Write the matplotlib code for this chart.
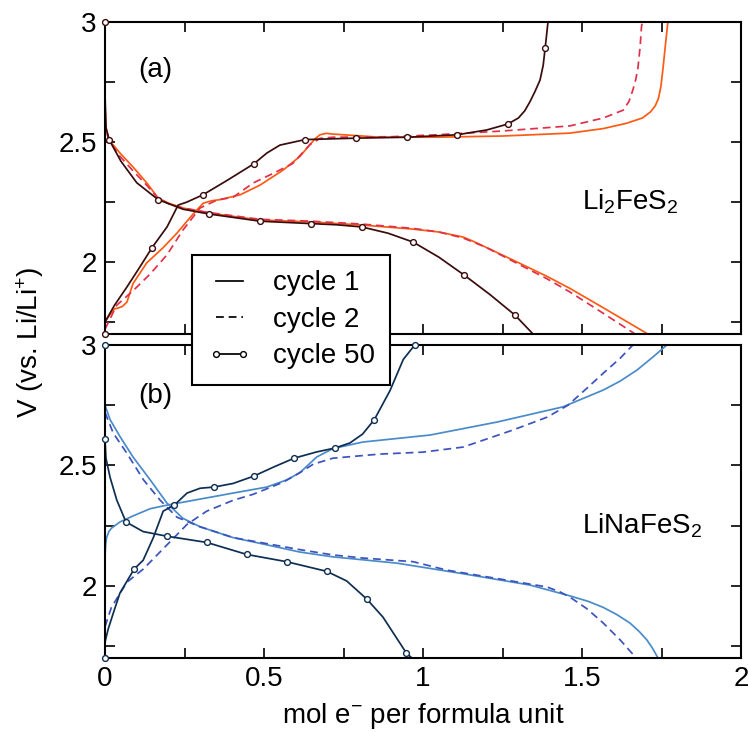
import matplotlib
matplotlib.use("Agg")
import matplotlib.pyplot as plt
from matplotlib.lines import Line2D
from matplotlib.ticker import MultipleLocator, FormatStrFormatter

plt.rcParams['font.family'] = ['Liberation Sans', 'DejaVu Sans']
plt.rcParams['mathtext.fontset'] = 'custom'
plt.rcParams['mathtext.rm'] = 'Liberation Sans'
plt.rcParams['mathtext.default'] = 'regular'

# ---------------- Data: (a) Li2FeS2 ----------------
a_c1_dis_x = [0, 0.003, 0.013, 0.047, 0.088, 0.131, 0.167, 0.2, 0.245, 0.327, 0.487, 0.648, 0.808, 0.969, 1.05, 1.126, 1.16, 1.2, 1.283, 1.39, 1.462, 1.566, 1.707]
a_c1_dis_v = [2.66, 2.56, 2.508, 2.454, 2.396, 2.33, 2.267, 2.245, 2.225, 2.204, 2.175, 2.167, 2.154, 2.137, 2.125, 2.104, 2.085, 2.06, 2.008, 1.94, 1.89, 1.81, 1.70]
a_c2_dis_x = [0, 0.003, 0.013, 0.047, 0.088, 0.131, 0.167, 0.2, 0.245, 0.327, 0.487, 0.648, 0.808, 0.969, 1.05, 1.126, 1.16, 1.2, 1.283, 1.39, 1.462, 1.566, 1.667]
a_c2_dis_v = [2.64, 2.55, 2.505, 2.44, 2.38, 2.32, 2.265, 2.243, 2.225, 2.206, 2.178, 2.17, 2.158, 2.14, 2.125, 2.10, 2.082, 2.06, 2.003, 1.93, 1.875, 1.787, 1.70]
a_c50_dis_x = [0, 0, 0.003, 0.013, 0.05, 0.1, 0.167, 0.245, 0.327, 0.488, 0.648, 0.73, 0.808, 0.89, 0.969, 1.05, 1.129, 1.21, 1.289, 1.346]
a_c50_dis_v = [3.0, 2.7, 2.56, 2.51, 2.42, 2.33, 2.26, 2.22, 2.20, 2.17, 2.16, 2.155, 2.146, 2.12, 2.083, 2.02, 1.946, 1.865, 1.779, 1.70]
a_c50_dis_mx = [0, 0.013, 0.167, 0.327, 0.488, 0.648, 0.808, 0.969, 1.129, 1.289]
a_c50_dis_mv = [3.0, 2.51, 2.26, 2.20, 2.17, 2.16, 2.146, 2.083, 1.946, 1.779]

a_c1_chg_x = [0, 0.015, 0.03, 0.041, 0.055, 0.069, 0.088, 0.131, 0.183, 0.226, 0.277, 0.309, 0.335, 0.362, 0.425, 0.487, 0.56, 0.613, 0.645, 0.662, 0.676, 0.695, 0.717, 0.865, 1.043, 1.252, 1.462, 1.567, 1.64, 1.69, 1.715, 1.73, 1.74, 1.748, 1.755, 1.762, 1.77]
a_c1_chg_v = [1.75, 1.78, 1.805, 1.808, 1.815, 1.833, 1.91, 1.996, 2.06, 2.12, 2.2, 2.245, 2.255, 2.26, 2.28, 2.32, 2.383, 2.44, 2.49, 2.515, 2.53, 2.536, 2.533, 2.52, 2.52, 2.525, 2.537, 2.556, 2.578, 2.60, 2.625, 2.65, 2.68, 2.73, 2.81, 2.9, 3.0]
a_c2_chg_x = [0, 0.037, 0.088, 0.142, 0.195, 0.245, 0.299, 0.352, 0.403, 0.467, 0.53, 0.59, 0.645, 0.676, 0.717, 0.9, 1.043, 1.252, 1.462, 1.567, 1.63, 1.648, 1.66, 1.669, 1.676, 1.683, 1.687, 1.69]
a_c2_chg_v = [1.72, 1.82, 1.88, 1.95, 2.03, 2.133, 2.225, 2.258, 2.27, 2.33, 2.37, 2.41, 2.49, 2.515, 2.52, 2.522, 2.53, 2.546, 2.567, 2.60, 2.633, 2.67, 2.717, 2.76, 2.81, 2.9, 2.98, 3.0]
a_c50_chg_x = [0, 0, 0.03, 0.069, 0.11, 0.148, 0.195, 0.23, 0.258, 0.308, 0.384, 0.469, 0.509, 0.55, 0.629, 0.789, 0.95, 1.107, 1.2, 1.267, 1.30, 1.32, 1.336, 1.352, 1.368, 1.378, 1.384, 1.389, 1.393]
a_c50_chg_v = [1.70, 1.75, 1.82, 1.896, 1.98, 2.06, 2.146, 2.237, 2.25, 2.28, 2.34, 2.41, 2.454, 2.487, 2.51, 2.516, 2.52, 2.53, 2.55, 2.575, 2.60, 2.63, 2.667, 2.71, 2.758, 2.82, 2.89, 2.95, 3.0]
a_c50_chg_mx = [0, 0.148, 0.308, 0.469, 0.629, 0.789, 0.95, 1.107, 1.267, 1.384]
a_c50_chg_mv = [1.70, 2.06, 2.28, 2.41, 2.51, 2.516, 2.52, 2.53, 2.575, 2.89]

# ---------------- Data: (b) LiNaFeS2 ----------------
b_c1_dis_x = [0, 0.016, 0.047, 0.088, 0.142, 0.195, 0.245, 0.299, 0.403, 0.509, 0.613, 0.717, 0.918, 1.126, 1.336, 1.462, 1.52, 1.567, 1.61, 1.651, 1.68, 1.704, 1.722, 1.739]
b_c1_dis_v = [2.75, 2.69, 2.62, 2.535, 2.44, 2.343, 2.28, 2.245, 2.20, 2.17, 2.14, 2.12, 2.094, 2.05, 2.003, 1.958, 1.935, 1.91, 1.88, 1.845, 1.81, 1.775, 1.74, 1.70]
b_c2_dis_x = [0, 0.026, 0.069, 0.121, 0.173, 0.226, 0.299, 0.403, 0.509, 0.613, 0.717, 0.813, 0.969, 1.075, 1.233, 1.39, 1.43, 1.462, 1.515, 1.567, 1.62, 1.667]
b_c2_dis_v = [2.72, 2.634, 2.55, 2.44, 2.356, 2.285, 2.245, 2.20, 2.175, 2.15, 2.128, 2.115, 2.10, 2.065, 2.03, 1.995, 1.975, 1.953, 1.905, 1.845, 1.775, 1.705]
b_c50_dis_x = [0, 0, 0.003, 0.016, 0.037, 0.066, 0.12, 0.194, 0.32, 0.446, 0.571, 0.697, 0.76, 0.823, 0.874, 0.948, 0.965]
b_c50_dis_v = [3.0, 2.61, 2.53, 2.45, 2.356, 2.265, 2.225, 2.206, 2.18, 2.13, 2.10, 2.06, 2.02, 1.945, 1.87, 1.72, 1.70]
b_c50_dis_mx = [0, 0, 0.066, 0.194, 0.32, 0.446, 0.571, 0.697, 0.823, 0.948]
b_c50_dis_mv = [3.0, 2.61, 2.265, 2.206, 2.18, 2.13, 2.10, 2.06, 1.945, 1.72]

b_c1_chg_x = [0, 0.002, 0.005, 0.012, 0.021, 0.047, 0.088, 0.142, 0.195, 0.299, 0.403, 0.509, 0.572, 0.613, 0.666, 0.717, 0.811, 1.022, 1.233, 1.44, 1.567, 1.62, 1.673, 1.70, 1.723, 1.745, 1.767]
b_c1_chg_v = [2.12, 2.17, 2.20, 2.225, 2.24, 2.265, 2.29, 2.32, 2.335, 2.36, 2.385, 2.41, 2.44, 2.47, 2.535, 2.57, 2.597, 2.626, 2.68, 2.743, 2.813, 2.85, 2.896, 2.925, 2.95, 2.975, 3.0]
b_c2_chg_x = [0, 0.02, 0.069, 0.121, 0.195, 0.258, 0.32, 0.403, 0.466, 0.56, 0.613, 0.655, 0.717, 0.865, 1.0, 1.126, 1.283, 1.39, 1.456, 1.515, 1.567, 1.62, 1.66]
b_c2_chg_v = [1.83, 1.91, 2.015, 2.07, 2.17, 2.255, 2.31, 2.355, 2.38, 2.43, 2.47, 2.505, 2.53, 2.547, 2.555, 2.576, 2.647, 2.70, 2.75, 2.82, 2.883, 2.945, 3.0]
b_c50_chg_x = [0, 0, 0.01, 0.026, 0.047, 0.092, 0.12, 0.152, 0.183, 0.218, 0.258, 0.299, 0.343, 0.403, 0.469, 0.53, 0.595, 0.666, 0.723, 0.77, 0.81, 0.847, 0.896, 0.938, 0.974]
b_c50_chg_v = [1.70, 1.766, 1.82, 1.886, 1.97, 2.07, 2.106, 2.2, 2.31, 2.335, 2.385, 2.405, 2.41, 2.425, 2.456, 2.493, 2.53, 2.556, 2.572, 2.593, 2.63, 2.69, 2.81, 2.94, 3.0]
b_c50_chg_mx = [0, 0.092, 0.218, 0.343, 0.469, 0.595, 0.723, 0.847, 0.974]
b_c50_chg_mv = [1.70, 2.07, 2.335, 2.41, 2.456, 2.53, 2.572, 2.69, 3.0]

legend_labels = ["cycle 1", "cycle 2", "cycle 50"]
x_ticks = [0, 0.5, 1, 1.5, 2]
y_ticks = [2, 2.5, 3]

# ---------------- Figure ----------------
W, H = 749, 732
fig = plt.figure(figsize=(W / 100, H / 100), dpi=100)

def fx(px):
    return px / W

def fy(py):
    return 1 - py / H

ax_a = fig.add_axes([fx(105), fy(334), fx(741) - fx(105), fy(22) - fy(334)])
ax_b = fig.add_axes([fx(105), fy(658), fx(741) - fx(105), fy(345) - fy(658)])

FS = 20
LW = 1.25
DASH = (4.5, 2.8)
MS = 4.2

def style_axes(ax, show_x):
    ax.set_xlim(0, 2)
    ax.set_ylim(1.7, 3)
    ax.set_xticks(x_ticks)
    ax.xaxis.set_minor_locator(MultipleLocator(0.25))
    ax.set_yticks(y_ticks)
    ax.yaxis.set_minor_locator(MultipleLocator(0.25))
    ax.yaxis.set_major_formatter(FormatStrFormatter('%g'))
    ax.xaxis.set_major_formatter(FormatStrFormatter('%g'))
    ax.tick_params(which='both', direction='in', top=True, right=True, labelsize=FS, width=1.2, pad=6, length=7)
    if not show_x:
        ax.tick_params(labelbottom=False)
    for s in ax.spines.values():
        s.set_linewidth(1.5)

def draw(ax, cols, c1d, c2d, c50d, c50dm, c1c, c2c, c50c, c50cm):
    c1col, c2col, c50col = cols
    for (x, v) in (c1d, c1c):
        ax.plot(x, v, color=c1col, lw=LW, solid_joinstyle='round')
    for (x, v) in (c2d, c2c):
        ax.plot(x, v, color=c2col, lw=LW, ls='--', dashes=DASH)
    for (x, v), (mx, mv) in ((c50d, c50dm), (c50c, c50cm)):
        ax.plot(x, v, color=c50col, lw=LW, solid_joinstyle='round')
        ax.plot(mx, mv, ls='none', marker='o', ms=MS, mfc='white', mec=c50col, mew=1.0, clip_on=False, zorder=5)

draw(ax_a, ("#FF5A14", "#E0304A", "#3A0C0C"),
     (a_c1_dis_x, a_c1_dis_v), (a_c2_dis_x, a_c2_dis_v), (a_c50_dis_x, a_c50_dis_v), (a_c50_dis_mx, a_c50_dis_mv),
     (a_c1_chg_x, a_c1_chg_v), (a_c2_chg_x, a_c2_chg_v), (a_c50_chg_x, a_c50_chg_v), (a_c50_chg_mx, a_c50_chg_mv))
draw(ax_b, ("#4A8BC9", "#3C53BE", "#0E2E52"),
     (b_c1_dis_x, b_c1_dis_v), (b_c2_dis_x, b_c2_dis_v), (b_c50_dis_x, b_c50_dis_v), (b_c50_dis_mx, b_c50_dis_mv),
     (b_c1_chg_x, b_c1_chg_v), (b_c2_chg_x, b_c2_chg_v), (b_c50_chg_x, b_c50_chg_v), (b_c50_chg_mx, b_c50_chg_mv))

style_axes(ax_a, False)
style_axes(ax_b, True)

ax_a.text(0.157, 2.80, "(a)", fontsize=FS, ha='center', va='center')
ax_b.text(0.157, 2.79, "(b)", fontsize=FS, ha='center', va='center')
ax_a.text(1.50, 2.25, "Li$_2$FeS$_2$", fontsize=FS, ha='left', va='center')
ax_b.text(1.50, 2.25, "LiNaFeS$_2$", fontsize=FS, ha='left', va='center')

ax_b.set_xlabel("mol e$^{-}$ per formula unit", fontsize=FS, labelpad=6)
fig.text(fx(30), fy(342), "V (vs. Li/Li$^{+}$)", fontsize=FS, rotation=90, ha='center', va='center')

handles = [
    Line2D([], [], color='black', lw=LW),
    Line2D([], [], color='black', lw=LW, ls='--', dashes=DASH),
    Line2D([], [], color='black', lw=LW, marker='o', ms=MS, mfc='white', mec='black', mew=1.0),
]
leg = fig.legend(handles, legend_labels, loc='upper left', bbox_to_anchor=(fx(192), fy(255)),
                 fontsize=FS, frameon=True, fancybox=False, framealpha=1, edgecolor='black',
                 handlelength=1.6, handletextpad=0.75, labelspacing=0.38, borderpad=0.55,
                 borderaxespad=0, numpoints=2)
leg.get_frame().set_linewidth(1.5)

fig.savefig("out.png", dpi=100)
